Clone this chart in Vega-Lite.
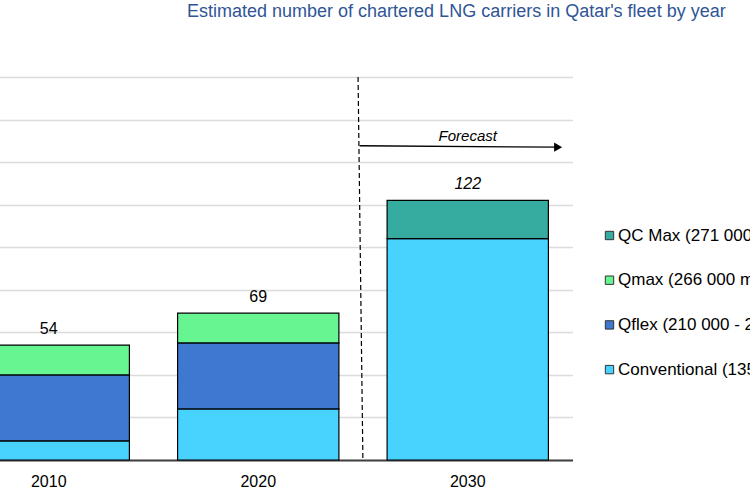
{
  "$schema": "https://vega.github.io/schema/vega-lite/v6.json",
  "width": 628.5,
  "height": 383,
  "autosize": "none",
  "padding": {"left": -56, "top": 77, "right": 178, "bottom": 39},
  "background": "white",
  "config": {"view": {"stroke": null}, "font": "Liberation Sans"},
  "title": {
    "text": "Estimated number of chartered LNG carriers in Qatar's fleet by year",
    "anchor": "start",
    "font": "Liberation Sans",
    "fontSize": 18,
    "fontWeight": "normal",
    "color": "#2F5597",
    "dx": 243,
    "offset": 37,
    "baseline": "bottom"
  },
  "data": {
    "values": [
      {"year": "2010", "type": "Conventional (135 000 - 177 000 m³)", "count": 9},
      {"year": "2010", "type": "Qflex (210 000 - 217 000 m³)", "count": 31},
      {"year": "2010", "type": "Qmax (266 000 m³)", "count": 14},
      {"year": "2020", "type": "Conventional (135 000 - 177 000 m³)", "count": 24},
      {"year": "2020", "type": "Qflex (210 000 - 217 000 m³)", "count": 31},
      {"year": "2020", "type": "Qmax (266 000 m³)", "count": 14},
      {"year": "2030", "type": "Conventional (135 000 - 177 000 m³)", "count": 104},
      {"year": "2030", "type": "QC Max (271 000 m³)", "count": 18}
    ]
  },
  "encoding": {
    "x": {
      "field": "year",
      "type": "nominal",
      "scale": {"paddingInner": 0.23, "paddingOuter": 0.115},
      "axis": {
        "title": null,
        "labelAngle": 0,
        "labelFontSize": 16,
        "labelColor": "#000000",
        "labelPadding": 13,
        "ticks": false,
        "domainColor": "#404040",
        "domainWidth": 2,
        "grid": false
      }
    }
  },
  "layer": [
    {
      "mark": {"type": "bar", "stroke": "#000000", "strokeWidth": 1.2},
      "encoding": {
        "y": {
          "field": "count",
          "type": "quantitative",
          "stack": "zero",
          "scale": {"domain": [0, 180], "nice": false},
          "axis": {
            "title": null,
            "labels": false,
            "ticks": false,
            "domain": false,
            "values": [0, 20, 40, 60, 80, 100, 120, 140, 160, 180],
            "gridColor": "#DCDCDC",
            "gridWidth": 1.5
          }
        },
        "order": {"field": "type", "sort": "ascending"},
        "color": {
          "field": "type",
          "type": "nominal",
          "scale": {
            "domain": ["QC Max (271 000 m³)", "Qmax (266 000 m³)", "Qflex (210 000 - 217 000 m³)", "Conventional (135 000 - 177 000 m³)"],
            "range": ["#36ABA0", "#66F590", "#3F78D0", "#48D3FF"]
          },
          "legend": {
            "title": null,
            "orient": "none",
            "legendX": 657,
            "legendY": 150,
            "symbolType": "square",
            "symbolSize": 70,
            "symbolStrokeColor": "#333333",
            "symbolStrokeWidth": 1,
            "labelFontSize": 17,
            "labelColor": "#000000",
            "labelLimit": 600,
            "labelOffset": 0,
            "rowPadding": 26.7
          }
        }
      }
    },
    {
      "transform": [
        {"aggregate": [{"op": "sum", "field": "count", "as": "total"}], "groupby": ["year"]},
        {"filter": "datum.year != '2030'"}
      ],
      "mark": {"type": "text", "baseline": "bottom", "dy": -8, "fontSize": 16, "color": "#000000"},
      "encoding": {
        "y": {"field": "total", "type": "quantitative"},
        "text": {"field": "total", "type": "quantitative"}
      }
    },
    {
      "transform": [
        {"aggregate": [{"op": "sum", "field": "count", "as": "total"}], "groupby": ["year"]},
        {"filter": "datum.year == '2030'"}
      ],
      "mark": {"type": "text", "baseline": "bottom", "dy": -8, "fontSize": 16, "fontStyle": "italic", "color": "#000000"},
      "encoding": {
        "y": {"field": "total", "type": "quantitative"},
        "text": {"field": "total", "type": "quantitative"}
      }
    },
    {
      "data": {"values": [{}]},
      "mark": {"type": "rule", "color": "#000000", "strokeWidth": 1.2, "strokeDash": [5, 3]},
      "encoding": {
        "x": {"datum": "2030", "bandPosition": -0.18},
        "x2": {"datum": "2030", "bandPosition": -0.15},
        "y": {"datum": 180},
        "y2": {"datum": 0}
      }
    },
    {
      "data": {"values": [{}]},
      "mark": {"type": "rule", "color": "#000000", "strokeWidth": 1.3},
      "encoding": {
        "x": {"datum": "2030", "bandPosition": -0.17},
        "x2": {"datum": "2030", "bandPosition": 1.07},
        "y": {"datum": 147.7},
        "y2": {"datum": 147}
      }
    },
    {
      "data": {"values": [{}]},
      "mark": {"type": "point", "shape": "triangle-right", "filled": true, "color": "#000000", "size": 85, "opacity": 1},
      "encoding": {
        "x": {"datum": "2030", "bandPosition": 1.06},
        "y": {"datum": 147}
      }
    },
    {
      "data": {"values": [{}]},
      "mark": {"type": "text", "text": "Forecast", "font": "Liberation Sans", "fontStyle": "italic", "fontWeight": "normal", "fontSize": 15, "color": "#000000", "baseline": "middle"},
      "encoding": {
        "x": {"datum": "2030", "bandPosition": 0.5},
        "y": {"datum": 152.5}
      }
    }
  ]
}
